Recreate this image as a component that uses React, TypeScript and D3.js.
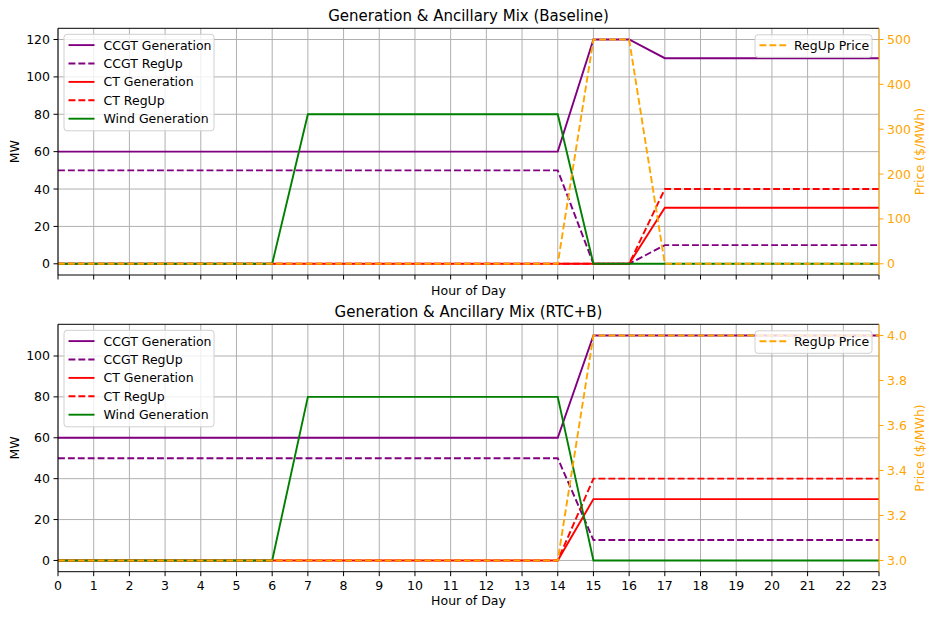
import * as d3 from 'd3';

const hours = [0, 1, 2, 3, 4, 5, 6, 7, 8, 9, 10, 11, 12, 13, 14, 15, 16, 17, 18, 19, 20, 21, 22, 23];

// Baseline
const ccgtGenBase = [60, 60, 60, 60, 60, 60, 60, 60, 60, 60, 60, 60, 60, 60, 60, 120, 120, 110, 110, 110, 110, 110, 110, 110];
const ccgtRegBase = [50, 50, 50, 50, 50, 50, 50, 50, 50, 50, 50, 50, 50, 50, 50, 0, 0, 10, 10, 10, 10, 10, 10, 10];
const ctGenBase = [0, 0, 0, 0, 0, 0, 0, 0, 0, 0, 0, 0, 0, 0, 0, 0, 0, 30, 30, 30, 30, 30, 30, 30];
const ctRegBase = [0, 0, 0, 0, 0, 0, 0, 0, 0, 0, 0, 0, 0, 0, 0, 0, 0, 40, 40, 40, 40, 40, 40, 40];
const windBase = [0, 0, 0, 0, 0, 0, 0, 80, 80, 80, 80, 80, 80, 80, 80, 0, 0, 0, 0, 0, 0, 0, 0, 0];
const priceBase = [0, 0, 0, 0, 0, 0, 0, 0, 0, 0, 0, 0, 0, 0, 0, 500, 500, 0, 0, 0, 0, 0, 0, 0];

// RTC+B
const ccgtGenRtc = [60, 60, 60, 60, 60, 60, 60, 60, 60, 60, 60, 60, 60, 60, 60, 110, 110, 110, 110, 110, 110, 110, 110, 110];
const ccgtRegRtc = [50, 50, 50, 50, 50, 50, 50, 50, 50, 50, 50, 50, 50, 50, 50, 10, 10, 10, 10, 10, 10, 10, 10, 10];
const ctGenRtc = [0, 0, 0, 0, 0, 0, 0, 0, 0, 0, 0, 0, 0, 0, 0, 30, 30, 30, 30, 30, 30, 30, 30, 30];
const ctRegRtc = [0, 0, 0, 0, 0, 0, 0, 0, 0, 0, 0, 0, 0, 0, 0, 40, 40, 40, 40, 40, 40, 40, 40, 40];
const windRtc = [0, 0, 0, 0, 0, 0, 0, 80, 80, 80, 80, 80, 80, 80, 80, 0, 0, 0, 0, 0, 0, 0, 0, 0];
const priceRtc = [3.0, 3.0, 3.0, 3.0, 3.0, 3.0, 3.0, 3.0, 3.0, 3.0, 3.0, 3.0, 3.0, 3.0, 3.0, 4.0, 4.0, 4.0, 4.0, 4.0, 4.0, 4.0, 4.0, 4.0];

const mwTicksBase = [0, 20, 40, 60, 80, 100, 120];
const mwTicksRtc = [0, 20, 40, 60, 80, 100];
const priceTicksBase = [0, 100, 200, 300, 400, 500];
const priceTicksRtc = [3.0, 3.2, 3.4, 3.6, 3.8, 4.0];

const seriesNames = ['CCGT Generation', 'CCGT RegUp', 'CT Generation', 'CT RegUp', 'Wind Generation'];
const seriesColors = ['purple', 'purple', 'red', 'red', 'green'];
const seriesDashed = [false, true, false, true, false];

const FONT = 'DejaVu Sans, sans-serif';
const DASH = '6.9 3';
const LW = 1.9;
const ORANGE = 'orange';

const left = 58;
const right = 879;

function padDomain(vals: number[]): [number, number] {
  const lo = d3.min(vals) as number;
  const hi = d3.max(vals) as number;
  const m = (hi - lo) * 0.05;
  return [lo - m, hi + m];
}

function Panel({ top, bottom, title, mw, price, mwTicks, priceTicks, priceFmt, showXLabels }: any) {
  const x = d3.scaleLinear().domain([0, 23]).range([left, right]);
  const y = d3.scaleLinear().domain(padDomain(mw.flat())).range([bottom, top]);
  const y2 = d3.scaleLinear().domain(padDomain(price)).range([bottom, top]);
  const line = (vals: number[], sc: any) =>
    d3.line<number>().x((_, i) => x(hours[i])).y((v) => sc(v))(vals) as string;

  const midY = (top + bottom) / 2;
  return (
    <g fontFamily={FONT}>
      <text x={(left + right) / 2} y={top - 7.5} textAnchor="middle" fontSize={15}>{title}</text>
      {/* grid */}
      {hours.map((h) => (
        <line key={'gx' + h} x1={x(h)} x2={x(h)} y1={top} y2={bottom} stroke="#b0b0b0" strokeWidth={1} />
      ))}
      {mwTicks.map((t: number) => (
        <line key={'gy' + t} x1={left} x2={right} y1={y(t)} y2={y(t)} stroke="#b0b0b0" strokeWidth={1} />
      ))}
      {/* series */}
      {mw.map((vals: number[], i: number) => (
        <path key={'s' + i} d={line(vals, y)} fill="none" stroke={seriesColors[i]} strokeWidth={LW}
          strokeDasharray={seriesDashed[i] ? DASH : undefined} />
      ))}
      {/* left legend */}
      <rect x={64} y={top + 6} width={150} height={96.5} rx={3} fill="white" fillOpacity={0.8} stroke="#d0d0d0" strokeWidth={1} />
      {seriesNames.map((n, i) => {
        const cy = top + 16.8 + i * 18.4;
        return (
          <g key={'lg' + i}>
            <line x1={68.5} x2={94.5} y1={cy} y2={cy} stroke={seriesColors[i]} strokeWidth={LW}
              strokeDasharray={seriesDashed[i] ? DASH : undefined} />
            <text x={103.5} y={cy + 4.5} fontSize={12.5}>{n}</text>
          </g>
        );
      })}
      {/* price line (twin axis, on top) */}
      <path d={line(price, y2)} fill="none" stroke={ORANGE} strokeWidth={LW} strokeDasharray={DASH} />
      {/* right legend */}
      <rect x={755} y={top + 6.5} width={117} height={22.5} rx={3} fill="white" fillOpacity={0.8} stroke="#d0d0d0" strokeWidth={1} />
      <line x1={759.5} x2={786.5} y1={top + 17} y2={top + 17} stroke={ORANGE} strokeWidth={LW} strokeDasharray={DASH} />
      <text x={794} y={top + 21.5} fontSize={12.5}>RegUp Price</text>
      {/* spines */}
      <line x1={left} x2={right} y1={top} y2={top} stroke="black" strokeWidth={1} />
      <line x1={left} x2={right} y1={bottom} y2={bottom} stroke="black" strokeWidth={1} />
      <line x1={left} x2={left} y1={top} y2={bottom} stroke="black" strokeWidth={1} />
      <line x1={right} x2={right} y1={top} y2={bottom} stroke={ORANGE} strokeWidth={1} />
      {/* x ticks */}
      {hours.map((h) => (
        <g key={'xt' + h}>
          <line x1={x(h)} x2={x(h)} y1={bottom} y2={bottom + 4.5} stroke="black" strokeWidth={1} />
          {showXLabels && (
            <text x={x(h)} y={bottom + 18.5} textAnchor="middle" fontSize={12.5}>{h}</text>
          )}
        </g>
      ))}
      <text x={(left + right) / 2} y={showXLabels ? bottom + 33.5 : bottom + 20} textAnchor="middle" fontSize={12.5}>Hour of Day</text>
      {/* left y ticks */}
      {mwTicks.map((t: number) => (
        <g key={'yt' + t}>
          <line x1={left - 4.5} x2={left} y1={y(t)} y2={y(t)} stroke="black" strokeWidth={1} />
          <text x={left - 8} y={y(t) + 4.5} textAnchor="end" fontSize={12.5}>{t}</text>
        </g>
      ))}
      <text transform={`translate(19,${midY}) rotate(-90)`} textAnchor="middle" fontSize={12.5}>MW</text>
      {/* right y ticks */}
      {priceTicks.map((t: number) => (
        <g key={'pt' + t}>
          <line x1={right} x2={right + 4.5} y1={y2(t)} y2={y2(t)} stroke={ORANGE} strokeWidth={1} />
          <text x={right + 8} y={y2(t) + 4.5} textAnchor="start" fontSize={12.5} fill={ORANGE}>{priceFmt(t)}</text>
        </g>
      ))}
      <text transform={`translate(924,${midY}) rotate(-90)`} textAnchor="middle" fontSize={12.5} fill={ORANGE}>Price ($/MWh)</text>
    </g>
  );
}

export default function App() {
  return (
    <svg width={936} height={618} style={{ position: 'absolute', left: 0, top: 0, background: 'white' }}>
      <rect width={936} height={618} fill="white" />
      <Panel top={28.3} bottom={275} title="Generation & Ancillary Mix (Baseline)"
        mw={[ccgtGenBase, ccgtRegBase, ctGenBase, ctRegBase, windBase]} price={priceBase}
        mwTicks={mwTicksBase} priceTicks={priceTicksBase} priceFmt={(t: number) => String(t)} showXLabels={false} />
      <Panel top={324.3} bottom={571.7} title="Generation & Ancillary Mix (RTC+B)"
        mw={[ccgtGenRtc, ccgtRegRtc, ctGenRtc, ctRegRtc, windRtc]} price={priceRtc}
        mwTicks={mwTicksRtc} priceTicks={priceTicksRtc} priceFmt={(t: number) => d3.format('.1f')(t)} showXLabels={true} />
    </svg>
  );
}
